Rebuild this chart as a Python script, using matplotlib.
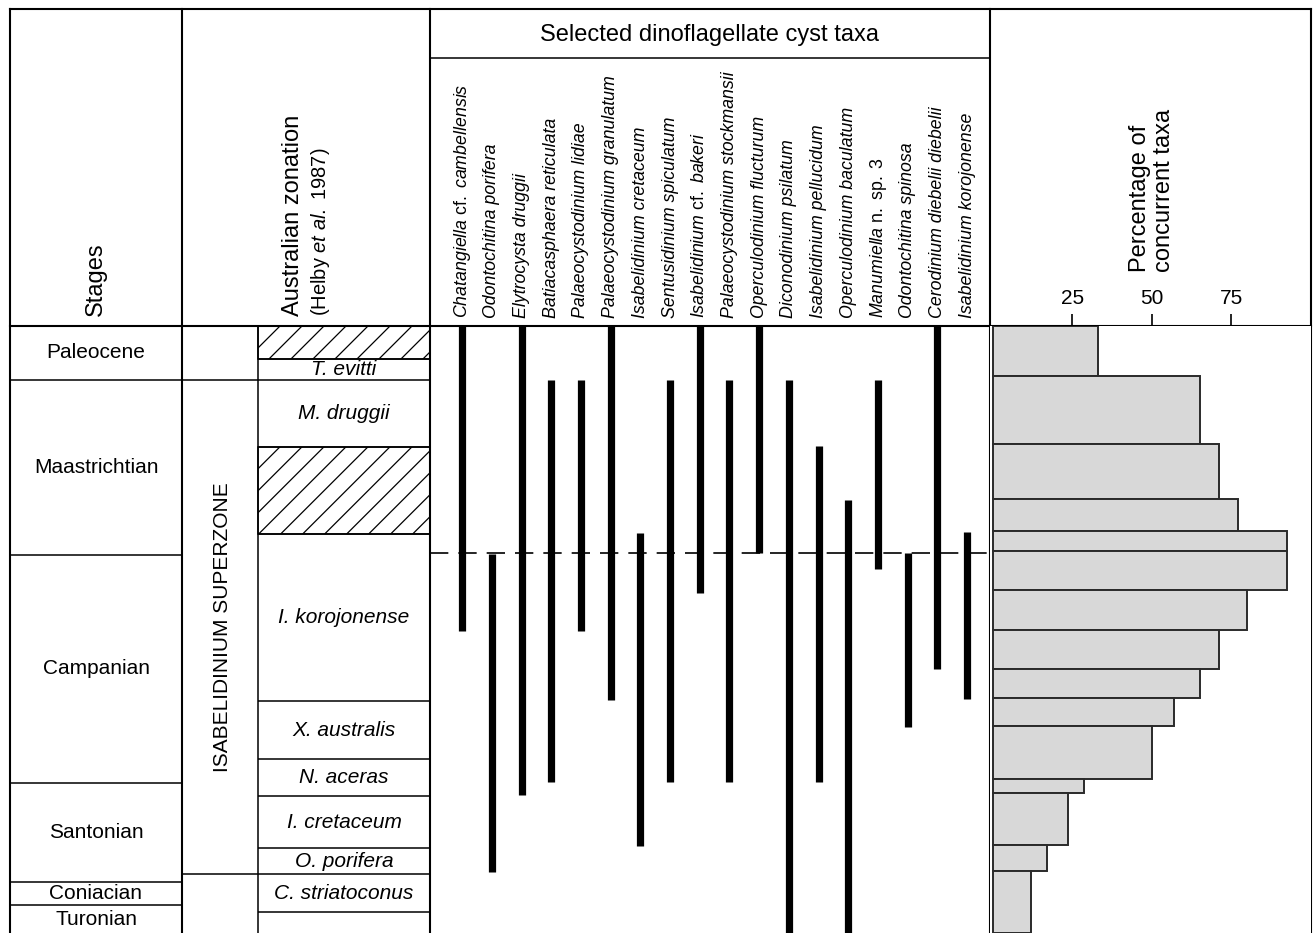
import matplotlib
matplotlib.use('Agg')
import matplotlib.pyplot as plt
from matplotlib.patches import Rectangle
import numpy as np

plt.rcParams['font.family'] = ['Liberation Sans', 'DejaVu Sans']
plt.rcParams['mathtext.fontset'] = 'custom'
plt.rcParams['mathtext.rm'] = 'Liberation Sans'
plt.rcParams['mathtext.it'] = 'Liberation Sans:italic'

# ---------------- data (depth measured downward from top of chart body) ----------------
stages = ["Paleocene", "Maastrichtian", "Campanian", "Santonian", "Coniacian", "Turonian"]
stage_bounds = [0, 54, 229, 458, 557, 580, 608]

zones = ["", "T. evitti", "M. druggii", "", "I. korojonense", "X. australis",
         "N. aceras", "I. cretaceum", "O. porifera", "C. striatoconus", ""]
zone_bounds = [0, 33, 54, 121, 208, 376, 434, 471, 523, 549, 587, 608]
zone_hatched = [True, False, False, True, False, False, False, False, False, False, False]

superzone = "ISABELIDINIUM SUPERZONE"
superzone_range = [54, 549]

taxa = [
    r"Chatangiella $\mathrm{cf.}$ cambellensis",
    "Odontochitina porifera",
    "Elytrocysta druggii",
    "Batiacasphaera reticulata",
    "Palaeocystodinium lidiae",
    "Palaeocystodinium granulatum",
    "Isabelidinium cretaceum",
    "Sentusidinium spiculatum",
    r"Isabelidinium $\mathrm{cf.}$ bakeri",
    "Palaeocystodinium stockmansii",
    "Operculodinium flucturum",
    "Diconodinium psilatum",
    "Isabelidinium pellucidum",
    "Operculodinium baculatum",
    r"Manumiella $\mathrm{n.\ sp.\ 3}$",
    "Odontochitina spinosa",
    "Cerodinium diebelii diebelii",
    "Isabelidinium korojonense",
]
taxa_top = [0, 228, 0, 54, 54, 0, 207, 54, 0, 54, 0, 54, 120, 174, 54, 227, 0, 206]
taxa_base = [306, 547, 470, 457, 306, 375, 521, 457, 267, 457, 227, 608, 457, 608, 243, 402, 344, 374]
marker_level = 227

hist_edges = [0, 50, 118, 173, 205, 225, 264, 304, 344, 373, 401, 454, 468, 520, 546, 608]
hist_pct = [33, 65, 71, 77, 92.5, 92.5, 80, 71, 65, 57, 50, 28.5, 23.5, 17, 12]
pct_ticks = [25, 50, 75]

# ---------------- layout (pixels) ----------------
W, H = 1316, 933
X_L, X_STAGE, X_SUPER, X_TAXA, X_HIST, X_R = 10, 182, 258, 430, 990, 1311
Y_TOP, Y_TITLE, Y_BODY = 9, 58, 326
HATCH_STEP = 22

def frac(x0, x1, y0, y1):
    return [x0 / W, 1 - y1 / H, (x1 - x0) / W, (y1 - y0) / H]

fig = plt.figure(figsize=(W / 100, H / 100), dpi=100)
fig.patch.set_facecolor('white')

# frame axes in pixel units
axf = fig.add_axes([0, 0, 1, 1])
axf.set_xlim(0, W)
axf.set_ylim(H, 0)
axf.axis('off')
LW_F = 1.5
LW_I = 1.1
for x in [X_L, X_STAGE, X_TAXA, X_HIST, X_R]:
    axf.plot([x, x], [Y_TOP, H], color='black', lw=LW_F, solid_capstyle='projecting')
axf.plot([X_SUPER, X_SUPER], [Y_BODY, H], color='black', lw=LW_I)
axf.plot([X_L, X_R], [Y_TOP, Y_TOP], color='black', lw=LW_F, solid_capstyle='projecting')
axf.plot([X_L, X_R], [Y_BODY, Y_BODY], color='black', lw=LW_F)
axf.plot([X_TAXA, X_HIST], [Y_TITLE, Y_TITLE], color='black', lw=LW_I)

axf.text((X_L + X_STAGE) / 2, 316, "Stages", rotation=90, ha='center', va='bottom', fontsize=17)
axf.text(293, 316, "Australian zonation", rotation=90, ha='center', va='bottom', fontsize=17)
axf.text(320, 316, r"(Helby $\mathit{et\ al.}$ 1987)", rotation=90, ha='center', va='bottom', fontsize=14.5)
axf.text((X_TAXA + X_HIST) / 2, (Y_TOP + Y_TITLE) / 2 + 1, "Selected dinoflagellate cyst taxa",
         ha='center', va='center', fontsize=17)
axf.text(1152, 272, "Percentage of\nconcurrent taxa", rotation=90, ha='center', va='bottom',
         multialignment='left', fontsize=17, linespacing=1.15)

# left table axes: x in pixels, y in depth units
depth_max = stage_bounds[-1]
axb = fig.add_axes(frac(X_L, X_TAXA, Y_BODY, H))
axb.set_xlim(X_L, X_TAXA)
axb.set_ylim(depth_max, 0)
axb.axis('off')
axb.hlines(stage_bounds[1:-1], X_L, X_STAGE, color='black', lw=LW_I)
for name, t, b in zip(stages, stage_bounds[:-1], stage_bounds[1:]):
    axb.text((X_L + X_STAGE) / 2, (t + b) / 2, name, ha='center', va='center', fontsize=15)

axb.hlines(zone_bounds[1:-1], X_SUPER, X_TAXA, color='black', lw=LW_I)
for name, t, b, hat in zip(zones, zone_bounds[:-1], zone_bounds[1:], zone_hatched):
    if hat:
        rect = Rectangle((X_SUPER, t), X_TAXA - X_SUPER, b - t, fill=False,
                         edgecolor='black', lw=LW_I)
        axb.add_patch(rect)
        h = b - t
        for x0 in np.arange(X_SUPER - h, X_TAXA + HATCH_STEP, HATCH_STEP):
            ln, = axb.plot([x0, x0 + h], [b, t], color='black', lw=0.9)
            ln.set_clip_path(rect)
    if name:
        axb.text((X_SUPER + X_TAXA) / 2, (t + b) / 2, name, ha='center', va='center',
                 fontsize=15, fontstyle='italic')

axb.hlines(superzone_range, X_STAGE, X_SUPER, color='black', lw=LW_I)
axb.text((X_STAGE + X_SUPER) / 2 + 3, sum(superzone_range) / 2, superzone, rotation=90,
         ha='center', va='center', fontsize=15)

# taxa range chart
axt = fig.add_axes(frac(X_TAXA, X_HIST, Y_BODY, H))
n = len(taxa)
idx = np.arange(n)
axt.set_xlim(-1.08, 17.77)
axt.set_ylim(depth_max, 0)
axt.axis('off')
axt.vlines(idx, taxa_top, taxa_base, color='black', lw=5.2)
axt.axhline(marker_level, color='black', lw=1.2, ls=(0, (11, 6)))
for i, name in enumerate(taxa):
    axt.text(i, -8, name, rotation=90, ha='center', va='bottom', fontsize=12.8,
             fontstyle='italic', clip_on=False)

# histogram
axh = fig.add_axes(frac(X_HIST, X_R, Y_BODY, H))
edges = np.array(hist_edges)
axh.barh((edges[:-1] + edges[1:]) / 2, hist_pct, height=np.diff(edges), left=0,
         color='#d8d8d8', edgecolor='#2a2a2a', lw=1.4)
axh.set_xlim(-0.94, 100)
axh.set_ylim(depth_max, 0)
for s in axh.spines.values():
    s.set_visible(False)
axh.set_yticks([])
axh.set_xticks(pct_ticks)
axh.xaxis.set_ticks_position('top')
axh.tick_params(axis='x', top=True, bottom=False, labeltop=True, labelbottom=False,
                length=9, width=1.2, direction='out', pad=4, labelsize=15)

fig.savefig('out.png', dpi=100, facecolor='white')
